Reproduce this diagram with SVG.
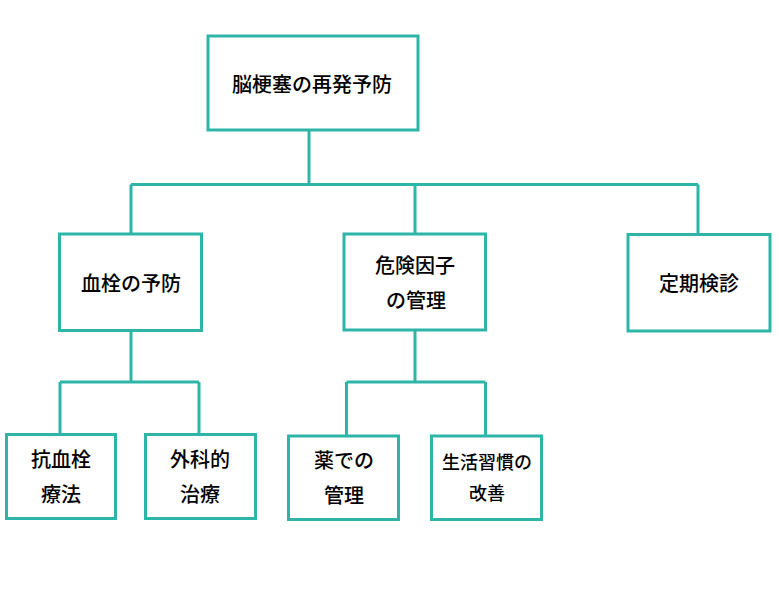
<svg xmlns="http://www.w3.org/2000/svg" width="779" height="590" viewBox="0 0 779 590">
<style>
.box{fill:#ffffff;stroke:#2db5a8;stroke-width:3}
.ln{fill:none;stroke:#2db5a8;stroke-width:3}
text{font-family:"Noto Sans CJK JP","Noto Sans",sans-serif;font-size:20px;font-weight:500;fill:#000;text-anchor:middle;dominant-baseline:central}
.sm{font-size:18px}
</style>
<rect width="779" height="590" fill="#ffffff"/>
<g id="connectors">
<path class="ln" d="M309,131 V184.5 M131,184.5 H698 M131,184.5 V234 M415,184.5 V234 M698,184.5 V234"/>
<path class="ln" d="M131,331 V382 M60,382 H199 M60,382 V434 M199,382 V434"/>
<path class="ln" d="M415,331 V382 M346.5,382 H485.5 M346.5,382 V436 M485.5,382 V436"/>
</g>
<g id="n-root"><rect class="box" x="208" y="36" width="210" height="94"/><text x="312" y="83">脳梗塞の再発予防</text></g>
<g id="n-thrombus"><rect class="box" x="59.5" y="234" width="142" height="96.5"/><text x="131" y="282">血栓の予防</text></g>
<g id="n-risk"><rect class="box" x="344" y="234" width="141.5" height="96"/><text x="415" y="264">危険因子</text><text x="416" y="299">の管理</text></g>
<g id="n-checkup"><rect class="box" x="628" y="234.5" width="142" height="96.5"/><text x="699" y="282">定期検診</text></g>
<g id="n-antithrombotic"><rect class="box" x="6.5" y="434.5" width="109" height="84"/><text x="61" y="458">抗血栓</text><text x="61" y="493">療法</text></g>
<g id="n-surgery"><rect class="box" x="145.5" y="434.5" width="110" height="84"/><text x="200" y="458">外科的</text><text x="200" y="493">治療</text></g>
<g id="n-drug"><rect class="box" x="288.5" y="436" width="110" height="83.5"/><text x="344" y="459">薬での</text><text x="344" y="494">管理</text></g>
<g id="n-lifestyle"><rect class="box" x="431.5" y="436" width="110" height="83.5"/><text class="sm" x="487" y="461">生活習慣の</text><text class="sm" x="487" y="492">改善</text></g>
</svg>
